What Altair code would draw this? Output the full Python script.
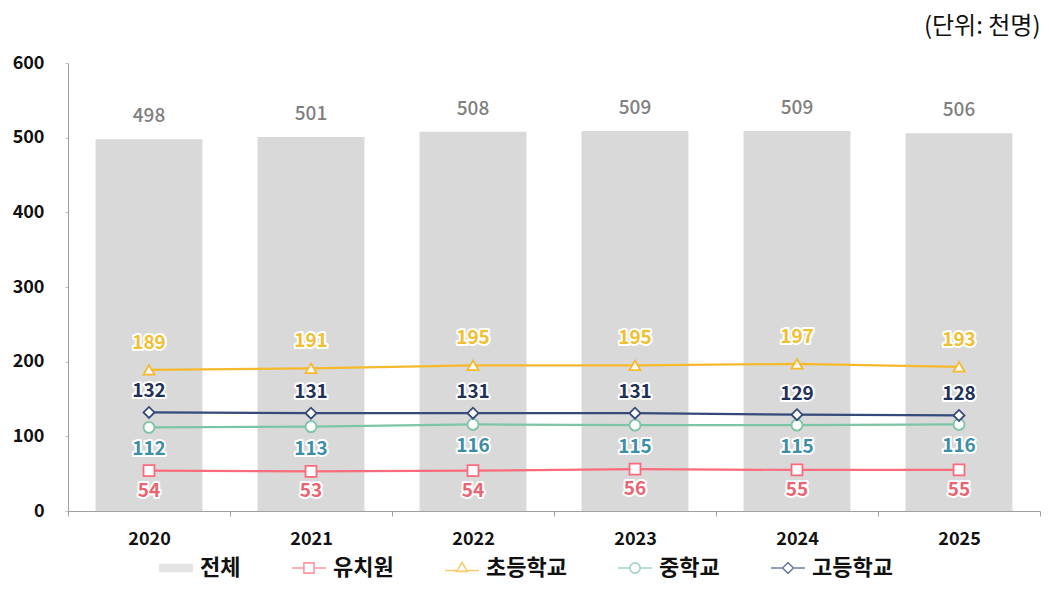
import altair as alt
import pandas as pd

years = ["2020", "2021", "2022", "2023", "2024", "2025"]
total = [498, 501, 508, 509, 509, 506]
kinder = [54, 53, 54, 56, 55, 55]
elem = [189, 191, 195, 195, 197, 193]
middle = [112, 113, 116, 115, 115, 116]
high = [132, 131, 131, 131, 129, 128]

series_names = ["전체", "유치원", "초등학교", "중학교", "고등학교"]
series_values = [total, kinder, elem, middle, high]
line_colors = ["#d9d9d9", "#fb6b7b", "#f6b92b", "#7cc5a6", "#344a7a"]
label_colors = ["#7f7f7f", "#ea6571", "#f0c030", "#3d8ea6", "#1f3157"]
marker_shapes = [None, "square", "triangle-up", "circle", "diamond"]
label_dy = [-23, 20, -27, 22, -21]

FONT = "Noto Sans CJK KR"

rows = []
for name, vals in zip(series_names, series_values):
    for yr, v in zip(years, vals):
        rows.append({"year": yr, "series": name, "value": v})
df = pd.DataFrame(rows)

# legend symbol paths (line + marker)
bar_sym = "".join(f"M-1,{y/100:.2f}H1" for y in range(-20, 21, 4))
legend_paths = [
    bar_sym,
    "M-1,0H-0.3M0.3,0H1M-0.3,-0.3H0.3V0.3H-0.3Z",
    "M-1,0.15H-0.32M0.32,0.15H1M-0.32,0.2L0,-0.32L0.32,0.2Z",
    "M-1,0H-0.3M0.3,0H1M-0.3,0A0.3,0.3 0 1,0 0.3,0A0.3,0.3 0 1,0 -0.3,0",
    "M-1,0H-0.32M0.32,0H1M-0.32,0L0,-0.32L0.32,0L0,0.32Z",
]

legend_def = alt.Legend(
    title=None,
    orient="none",
    direction="horizontal",
    legendX=90,
    legendY=487,
    symbolSize=1156,
    symbolStrokeWidth=1.6,
    labelFont=FONT,
    labelFontSize=22,
    labelFontWeight="bold",
    labelColor="#111111",
    labelOffset=6,
    columnPadding=47,
)

x_enc = alt.X(
    "year:N",
    scale=alt.Scale(paddingInner=0, paddingOuter=0),
    axis=alt.Axis(
        title=None, labelAngle=0, tickBand="extent", labelFont=FONT,
        labelFontSize=18, labelFontWeight="bold", labelColor="#111111",
        labelPadding=14, tickSize=5, domainColor="#a0a0a0", tickColor="#a0a0a0",
    ),
)
y_enc = alt.Y(
    "value:Q",
    scale=alt.Scale(domain=[0, 600]),
    axis=alt.Axis(
        title=None, values=[0, 100, 200, 300, 400, 500, 600], grid=False,
        labelFont=FONT, labelFontSize=18, labelFontWeight="bold",
        labelColor="#111111", labelPadding=21, tickSize=3,
        domainColor="#a0a0a0", tickColor="#c0c0c0",
    ),
)

base = alt.Chart(df)

bars = base.transform_filter(alt.datum.series == "전체").mark_bar(
    color=line_colors[0], width=alt.RelativeBandSize(0.66)
).encode(x=x_enc, y=y_enc)

bar_labels = base.transform_filter(alt.datum.series == "전체").mark_text(
    dy=label_dy[0], font=FONT, fontSize=19, fontWeight=500, color=label_colors[0]
).encode(x=x_enc, y=y_enc, text="value:Q")

color_enc = alt.Color(
    "series:N",
    scale=alt.Scale(domain=series_names, range=line_colors),
    legend=legend_def,
)

lines = base.transform_filter(alt.datum.series != "전체").mark_line(
    strokeWidth=2.2
).encode(x=x_enc, y=y_enc, color=color_enc, detail="series:N")

layers = [bars, bar_labels, lines]

for i in range(1, 5):
    name = series_names[i]
    sub = base.transform_filter(alt.datum.series == name)
    pts = sub.mark_point(
        shape=marker_shapes[i], filled=True, fill="white",
        stroke=line_colors[i], strokeWidth=1.8, size=120, opacity=1,
    ).encode(x=x_enc, y=y_enc)
    halo = sub.mark_text(
        dy=label_dy[i], font=FONT, fontSize=19, fontWeight="bold",
        stroke="white", strokeWidth=4, strokeJoin="round", fill="white",
    ).encode(x=x_enc, y=y_enc, text="value:Q")
    txt = sub.mark_text(
        dy=label_dy[i], font=FONT, fontSize=19, fontWeight="bold",
        color=label_colors[i],
    ).encode(x=x_enc, y=y_enc, text="value:Q")
    layers += [pts, halo, txt]

legend_helper = base.transform_filter("false").mark_point(filled=False).encode(
    color=color_enc,
    shape=alt.Shape(
        "series:N",
        scale=alt.Scale(domain=series_names, range=legend_paths),
        legend=legend_def,
    ),
)
layers.append(legend_helper)

chart = alt.layer(*layers).properties(
    width=972,
    height=448,
    padding={"left": 60, "top": 55, "right": 1, "bottom": 69},
    autosize=alt.AutoSizeParams(type="none"),
    title=alt.TitleParams(
        "(단위: 천명)", anchor="end", font=FONT, fontSize=24,
        fontWeight="normal", color="#111111", offset=15, dx=0,
    ),
).configure(font=FONT).configure_view(stroke="transparent", strokeWidth=0)

chart.save("out.html", embed_options={"renderer": "svg", "actions": False})
